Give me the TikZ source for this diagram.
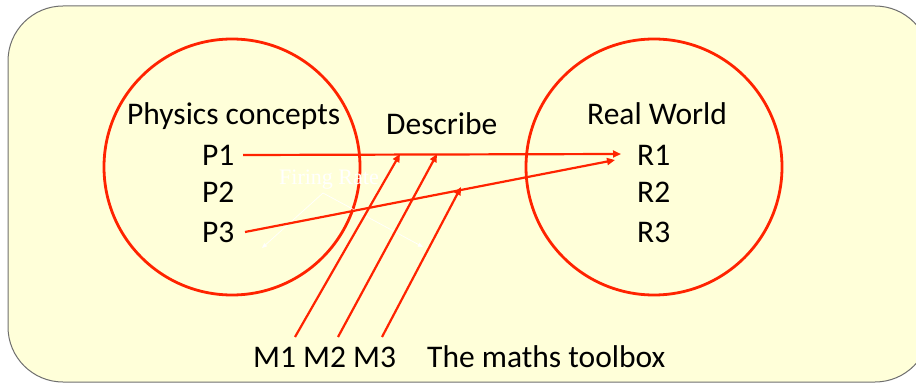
\documentclass[tikz,border=0pt]{standalone}
\usepackage{fontspec}
\setmainfont{Carlito}
\newfontfamily\serifwhite{Liberation Serif}
\usetikzlibrary{arrows.meta}
\definecolor{bgyellow}{RGB}{255,255,217}
\definecolor{myred}{RGB}{255,35,0}
\definecolor{bordergray}{RGB}{110,110,110}
\tikzset{
  lbl/.style={font=\fontsize{31.5}{36}\selectfont, anchor=base west, inner sep=0pt, text=black},
  ring/.style={draw=myred, line width=2.8pt},
  redarrow/.style={draw=myred, line width=2.2pt, -{Triangle[length=8pt,width=7pt]}},
  whitearrow/.style={draw=white, line width=0.7pt, -{Triangle[length=5pt,width=4pt]}}
}
\begin{document}
\begin{tikzpicture}[x=1pt,y=-1pt]
\useasboundingbox (0,0) rectangle (916,385);
% background box
\draw[bordergray, line width=1pt, fill=bgyellow, rounded corners=55pt] (8,6) rectangle (930,382);
% circles
\draw[ring] (232,167) circle[radius=128];
\draw[ring] (654,167) circle[radius=128];
% labels
\node[lbl] (phys) at (127,125) {Physics concepts};
\node[lbl] (P1) at (202,165) {P1};
\node[lbl] (P2) at (202,203) {P2};
\node[lbl] (P3) at (202,242) {P3};
\node[lbl] (desc) at (386,135) {Describe};
\node[lbl] (real) at (587,125) {Real World};
\node[lbl] (R1) at (637,165) {R1};
\node[lbl] (R2) at (637,203) {R2};
\node[lbl] (R3) at (637,242) {R3};
\node[lbl] (M1) at (253,367) {M1};
\node[lbl] (M2) at (303,367) {M2};
\node[lbl] (M3) at (353,367) {M3};
\node[lbl] (tool) at (427,367) {The maths toolbox};
% faint white label
\node[font=\serifwhite\fontsize{22}{26}\selectfont, text=white, anchor=base west, inner sep=0pt] (fr) at (279,185) {Firing Rate};
\coordinate (frs) at (323,193);
\coordinate (frl) at (262,248);
\coordinate (frr) at (423,247);
\draw[whitearrow] (frs) -- (frl);
\draw[whitearrow] (frs) -- (frr);
% arrow coordinates
\coordinate (p1s) at (243,155);
\coordinate (p1e) at (621,154);
\coordinate (p3s) at (245,232);
\coordinate (p3e) at (615,160);
\coordinate (m1s) at (295,337);
\coordinate (m1e) at (400,154);
\coordinate (m2s) at (338,337);
\coordinate (m2e) at (437,154);
\coordinate (m3s) at (382,337);
\coordinate (m3e) at (461,187);
% red arrows
\draw[redarrow] (p1s) -- (p1e);
\draw[redarrow] (p3s) -- (p3e);
\draw[redarrow] (m1s) -- (m1e);
\draw[redarrow] (m2s) -- (m2e);
\draw[redarrow] (m3s) -- (m3e);
\end{tikzpicture}
\end{document}
